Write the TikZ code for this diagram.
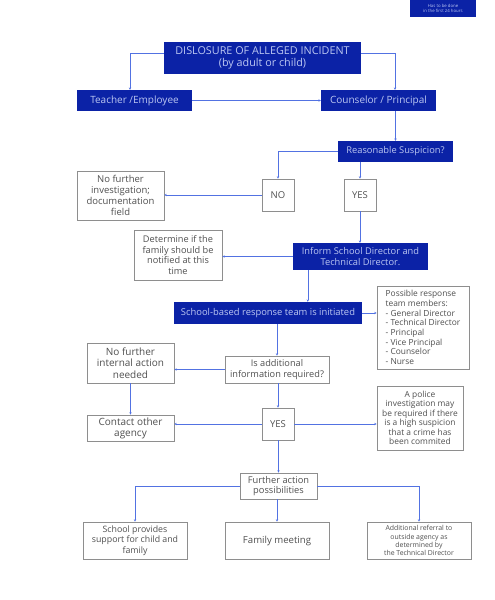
\documentclass[tikz,border=0pt]{standalone}
\usepackage{fontspec}
\setmainfont{Open Sans}
\usetikzlibrary{calc}
\usetikzlibrary{arrows.meta}
\definecolor{boxblue}{HTML}{0B22A6}
\definecolor{boxtext}{HTML}{BCC7F2}
\definecolor{linkblue}{HTML}{5272E2}
\definecolor{framegray}{HTML}{8E8E8E}
\definecolor{textgray}{HTML}{505050}

\begin{document}
\begin{tikzpicture}[x=1pt, y=-1pt,
bluebox/.style={fill=boxblue, text=boxtext, inner sep=2pt, align=center, font=\fontsize{9.5}{11.5}\selectfont},
graybox/.style={draw=framegray, line width=0.7pt, fill=white, text=textgray, inner sep=2pt, align=center, font=\fontsize{9.5}{11}\selectfont},
link/.style={draw=linkblue, line width=0.6pt, -{Stealth[length=2.4pt, width=2.4pt]}}]
\useasboundingbox (0,0) rectangle (495,600);
\node[bluebox, minimum width=66pt, minimum height=17pt, font=\fontsize{4.3}{5.4}\selectfont] (note) at (443,8.5) {Has to be done\\in the first 24 hours};
\node[bluebox, minimum width=197pt, minimum height=32pt, font=\fontsize{10.8}{12}\selectfont] (disc) at (262.5,58) {DISLOSURE OF ALLEGED INCIDENT\\(by adult or child)};
\node[bluebox, minimum width=115pt, minimum height=21pt, font=\fontsize{10}{12}\selectfont] (teach) at (134.5,100.5) {Teacher /Employee};
\node[bluebox, minimum width=115pt, minimum height=21pt, font=\fontsize{10}{12}\selectfont] (couns) at (378.5,100.5) {Counselor / Principal};
\node[bluebox, minimum width=115pt, minimum height=21pt, font=\fontsize{9.3}{10}\selectfont] (susp) at (395.5,151.5) {Reasonable Suspicion?};
\node[graybox, minimum width=32pt, minimum height=32pt] (no) at (278,195) {NO};
\node[graybox, minimum width=32pt, minimum height=32pt] (yes) at (360,195) {YES};
\node[graybox, minimum width=87pt, minimum height=49pt, font=\fontsize{9.5}{10.8}\selectfont] (noinv) at (120.5,195.5) {No further\\investigation;\\documentation\\field};
\node[graybox, minimum width=88pt, minimum height=50pt, font=\fontsize{9.2}{10.6}\selectfont] (determ) at (178,255) {Determine if the\\family should be\\notified at this\\time};
\node[bluebox, minimum width=135pt, minimum height=27pt, font=\fontsize{9.3}{10.6}\selectfont] (inform) at (360.5,256.5) {Inform School Director and\\Technical Director.};
\node[bluebox, minimum width=188pt, minimum height=22pt, font=\fontsize{9.4}{10}\selectfont] (team) at (268,313) {School-based response team is initiated};
\node[graybox, minimum width=92pt, minimum height=83pt, align=left, font=\fontsize{8.4}{9.7}\selectfont] (members) at (423,327.5) {Possible response\\team members:\\- General Director\\- Technical Director\\- Principal\\- Vice Principal\\- Counselor\\- Nurse};
\node[graybox, minimum width=104pt, minimum height=27pt, font=\fontsize{9.2}{10.8}\selectfont] (isadd) at (277,369.5) {Is additional\\information required?};
\node[graybox, minimum width=87pt, minimum height=40pt, font=\fontsize{10}{11.6}\selectfont] (noint) at (130.5,363) {No further\\internal action\\needed};
\node[graybox, minimum width=86pt, minimum height=64pt, font=\fontsize{8.4}{9.5}\selectfont] (police) at (420,418) {A police\\investigation may\\be required if there\\is a high suspicion\\that a crime has\\been commited};
\node[graybox, minimum width=87pt, minimum height=26pt, font=\fontsize{10}{10.8}\selectfont] (contact) at (130.5,428) {Contact other\\agency};
\node[graybox, minimum width=32pt, minimum height=32pt] (yestwo) at (278,424) {YES};
\node[graybox, minimum width=77pt, minimum height=26pt, font=\fontsize{9.3}{10.8}\selectfont] (further) at (278.5,486) {Further action\\possibilities};
\node[graybox, minimum width=104pt, minimum height=37pt, font=\fontsize{8.8}{10.5}\selectfont] (support) at (135,540.5) {School provides\\support for child and\\family};
\node[graybox, minimum width=104pt, minimum height=37pt, font=\fontsize{9.6}{10.5}\selectfont] (meeting) at (277,540.5) {Family meeting};
\node[graybox, minimum width=104pt, minimum height=37pt, font=\fontsize{6.9}{8.2}\selectfont] (referral) at (419,540.5) {Additional referral to\\outside agency as\\determined by\\the Technical Director};
\coordinate (teachin) at ([xshift=-4.5pt]teach.north);
\coordinate (counsin) at ([xshift=16.5pt]couns.north);
\coordinate (teamin) at ([xshift=15pt]inform.south west);
\draw[link] ([yshift=5pt]disc.west) -| (teachin);
\draw[link] ([yshift=5pt]disc.east) -| (counsin);
\draw[link] (teach.east) -- (couns.west);
\draw[link] (susp.north |- couns.south) -- (susp.north);
\draw[link] (susp.west) -| (no.north);
\draw[link] (yes.north |- susp.south) -- (yes.north);
\draw[link] (no.west) -- (no.west -| noinv.east);
\draw[link] (yes.south) -- (yes.south |- inform.north);
\draw[link] (inform.west) -- (inform.west -| determ.east);
\draw[link] (teamin) -- (teamin |- team.north);
\draw[link] (team.east) -- (team.east -| members.west);
\draw[link] (isadd.north |- team.south) -- (isadd.north);
\draw[link] (isadd.west) -- (isadd.west -| noint.east);
\draw[link] (noint.south) -- (noint.south |- contact.north);
\draw[link] (yestwo.north |- isadd.south) -- (yestwo.north);
\draw[link] (yestwo.west) -- (yestwo.west -| contact.east);
\draw[link] (yestwo.east) -- (yestwo.east -| police.west);
\draw[link] (yestwo.south) -- (yestwo.south -| further.north) -- (further.north);
\draw[link] (further.west) -| (support.north);
\draw[link] (further.east) -| (referral.north);
\draw[link] (meeting.north |- further.south) -- (meeting.north);
\end{tikzpicture}
\end{document}
